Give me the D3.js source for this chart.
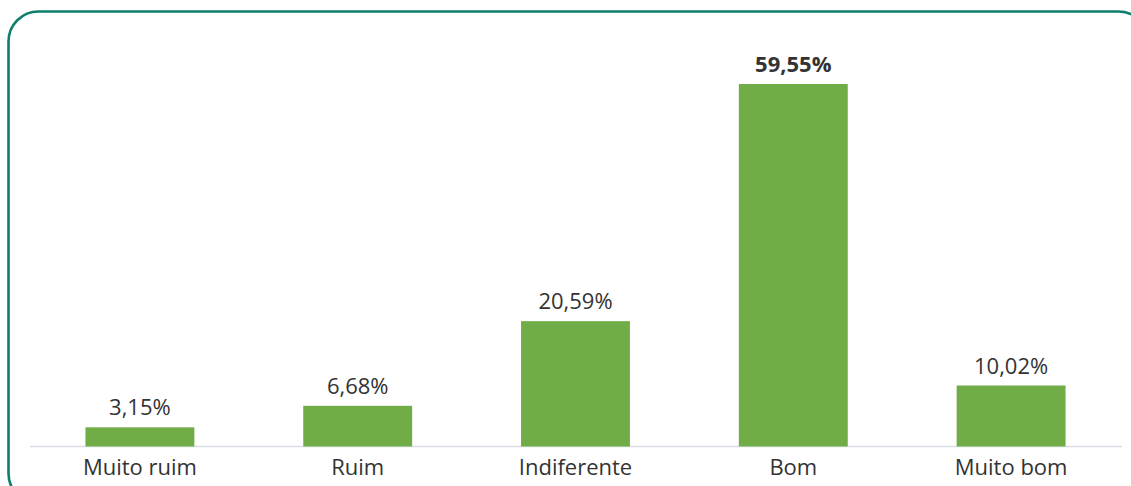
<!DOCTYPE html>
<html><head><meta charset="utf-8">
<script src="https://cdn.jsdelivr.net/npm/d3@7"></script>
<style>html,body{margin:0;padding:0;background:#fff;overflow:hidden}</style>
</head><body><svg id="c" width="1131" height="486"></svg>
<script>
const categories = ["Muito ruim","Ruim","Indiferente","Bom","Muito bom"];
const values = [3.15, 6.68, 20.59, 59.55, 10.02];
const labels = ["3,15%","6,68%","20,59%","59,55%","10,02%"];
const boldIndex = 3;

const svg = d3.select("#c");
const font = "'Open Sans', sans-serif";

svg.append("rect").attr("x",8.5).attr("y",11.5).attr("width",1140).attr("height",492)
  .attr("rx",30).attr("ry",30).attr("fill","#fff").attr("stroke","#0e7f6e").attr("stroke-width",2.6);

const baseY = 446.5;
const x = d3.scaleBand().domain(categories).range([31,1120]).paddingInner(0.5).paddingOuter(0.25);
const y = d3.scaleLinear().domain([0,59.55]).range([baseY,84]);

svg.append("line").attr("x1",30).attr("x2",1122).attr("y1",baseY).attr("y2",baseY)
  .attr("stroke","#d9dde3").attr("stroke-width",1.5);

svg.selectAll("rect.bar").data(values).join("rect").attr("class","bar")
  .attr("x",(d,i)=>x(categories[i])).attr("width",x.bandwidth())
  .attr("y",d=>y(d)).attr("height",d=>baseY-y(d)).attr("fill","#70ad47");

svg.selectAll("text.val").data(values).join("text").attr("class","val")
  .attr("x",(d,i)=>x(categories[i])+x.bandwidth()/2).attr("y",d=>y(d)-12)
  .attr("text-anchor","middle").attr("font-family",font).attr("font-size",22)
  .attr("font-weight",(d,i)=>i===boldIndex?"bold":"normal").attr("fill","#333333")
  .text((d,i)=>labels[i]);

const ax = svg.append("g").attr("transform",`translate(0,${baseY})`)
  .call(d3.axisBottom(x).tickSize(0).tickPadding(13));
ax.select(".domain").remove();
ax.selectAll("text").attr("font-family",font).attr("font-size",22).attr("fill","#333333");
</script></body></html>
